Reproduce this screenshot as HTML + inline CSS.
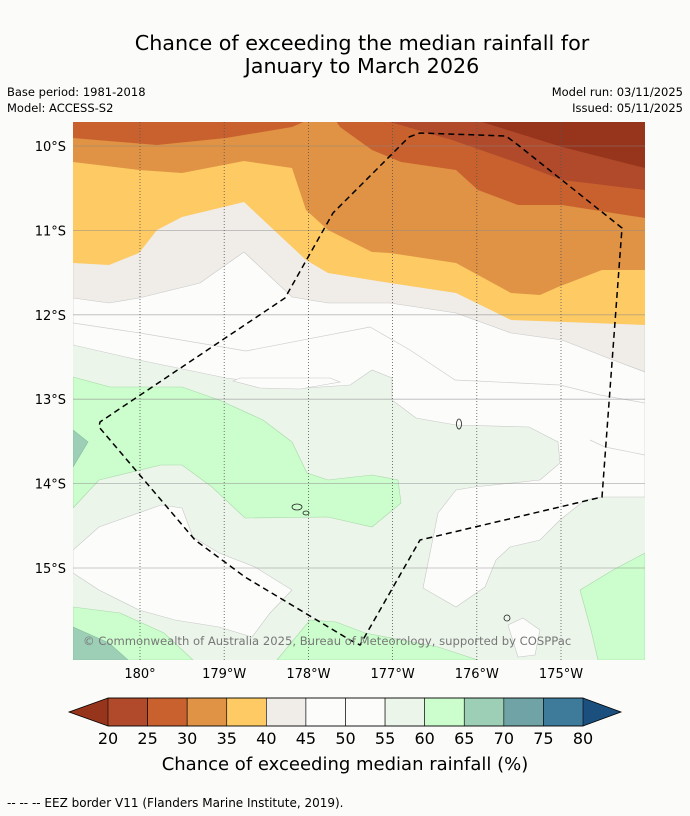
<!DOCTYPE html>
<html><head><meta charset="utf-8"><style>
html,body{margin:0;padding:0;background:#fbfcfa;}
svg{display:block;font-family:"DejaVu Sans","Liberation Sans",sans-serif;}
</style></head><body>
<svg id="chart" width="690" height="816" viewBox="0 0 690 816" xmlns="http://www.w3.org/2000/svg">
<rect width="690" height="816" fill="#fbfcfa"/>
<text x="362" y="50" font-size="20.7" text-anchor="middle" fill="#000">Chance of exceeding the median rainfall for</text>
<text x="362" y="73" font-size="20.7" text-anchor="middle" fill="#000">January to March 2026</text>
<text x="7" y="96" font-size="11.5">Base period: 1981-2018</text>
<text x="7" y="112" font-size="11.5">Model: ACCESS-S2</text>
<text x="683" y="96" font-size="11.5" text-anchor="end">Model run: 03/11/2025</text>
<text x="683" y="112" font-size="11.5" text-anchor="end">Issued: 05/11/2025</text>
<defs><clipPath id="mapclip"><rect x="73" y="122" width="572" height="538"/></clipPath></defs>
<g id="map" clip-path="url(#mapclip)"></g>
<g id="axes"></g>
<g id="cbar"></g>
<text x="345" y="770" font-size="18" text-anchor="middle">Chance of exceeding median rainfall (%)</text>
<text x="7" y="807" font-size="12">--  --  -- EEZ border V11 (Flanders Marine Institute, 2019).</text>
</svg>
<script>
const levels = [20,25,30,35,40,45,50,55,60,65,70,75,80];
const levelColors = ["#b04a2a","#c9612f","#e09344","#fdca64","#f0ece8","#fcfdfb","#fcfdfb","#ebf5ea","#ccfdcc","#9dcfb7","#6fa3a6","#3e7a99"];
const underColor = "#96341c";
const overColor = "#1b4f7e";
const latTicks = [10,11,12,13,14,15];
const latLabels = ["10°S","11°S","12°S","13°S","14°S","15°S"];
const lonTicks = [180,181,182,183,184,185];
const lonLabels = ["180°","179°W","178°W","177°W","176°W","175°W"];

const NS="http://www.w3.org/2000/svg";
const map=document.getElementById('map');
const axes=document.getElementById('axes');
const cbar=document.getElementById('cbar');
function xOfLon(l){return 140+(l-180)*84.2;}
function yOfLat(s){return 146+(s-10)*84.4;}
function el(tag,attrs,parent){const e=document.createElementNS(NS,tag);for(const k in attrs)e.setAttribute(k,attrs[k]);parent.appendChild(e);return e;}
function poly(pts,fill,name,stroke){
  const p=el('polygon',{points:pts.map(q=>q.join(',')).join(' '),fill:fill,stroke:stroke||'#c8c8c8','stroke-width':0.6},map);
  
  
  return p;
}
const base=el('rect',{x:73,y:122,width:572,height:538,fill:levelColors[7]},map);


poly([[73,122],[645,122],[645,497],[602,497],[585,500],[560,520],[540,540],[510,547],[496,560],[485,587],[456,607],[423,588],[438,513],[456,490],[474,487],[540,480],[560,463],[558,442],[529,427],[456,425],[416,418],[392,400],[392,378],[372,370],[350,385],[306,388],[226,378],[139,360],[73,345]],levelColors[5],'region-45-55-north');
poly([[73,550],[99,527],[161,505],[182,508],[193,537],[219,553],[255,567],[292,590],[270,613],[252,637],[219,627],[175,620],[139,610],[99,590],[73,573]],levelColors[5],'region-45-55-southwest');
poly([[508,625],[523,618],[540,630],[535,655],[518,657]],levelColors[5],'region-45-55-small');
poly([[233,381],[260,388],[300,389],[340,382],[330,378],[240,378]],levelColors[5],'region-45-55-patch');
const c1=el('polyline',{points:"73,323 140,333 246,351 370,327 410,350 455,380 560,385 600,395 645,403",fill:'none',stroke:'#cfcfcf','stroke-width':0.7},map);

const c2=el('polyline',{points:"590,440 605,447 645,455",fill:'none',stroke:'#cfcfcf','stroke-width':0.7},map);

poly([[73,377],[110,387],[182,387],[219,400],[263,420],[292,442],[307,473],[328,480],[372,475],[398,480],[401,503],[372,527],[328,517],[245,518],[212,487],[182,465],[161,465],[99,480],[73,508]],levelColors[8],'region-60-65-west','#a8d8a8');
poly([[645,553],[613,570],[580,590],[591,630],[598,660],[645,660]],levelColors[8],'region-60-65-east','#a8d8a8');
poly([[73,607],[120,613],[164,633],[193,660],[73,660]],levelColors[8],'region-60-65-southwest','#a8d8a8');
poly([[277,660],[310,620],[336,622],[365,633],[438,647],[478,660]],levelColors[8],'region-60-65-south','#a8d8a8');
poly([[73,430],[88,442],[73,467]],levelColors[9],'region-65-70-west','#88bba0');
poly([[73,627],[109,643],[128,660],[73,660]],levelColors[9],'region-65-70-southwest','#88bba0');
poly([[73,122],[645,122],[645,372],[613,360],[562,340],[511,333],[456,313],[390,303],[328,303],[292,297],[244,252],[200,283],[139,298],[109,303],[73,298]],levelColors[4],'region-40-45');
poly([[73,122],[645,122],[645,325],[511,320],[456,293],[390,283],[328,273],[306,260],[244,202],[182,217],[157,230],[139,253],[109,265],[73,263]],levelColors[3],'region-35-40','none');
poly([[73,122],[645,122],[645,270],[602,270],[558,287],[540,295],[511,293],[456,263],[390,253],[372,252],[328,230],[306,210],[292,168],[244,161],[182,173],[139,170],[73,162]],levelColors[2],'region-30-35','none');
poly([[73,122],[73,138],[157,145],[226,138],[292,127],[306,121],[336,121],[340,127],[372,150],[401,162],[456,170],[478,190],[518,205],[562,205],[645,218],[645,122]],levelColors[1],'region-25-30','none');
poly([[390,122],[452,140],[518,163],[562,180],[645,190],[645,122]],levelColors[0],'region-20-25','none');
poly([[482,122],[562,147],[645,168],[645,122]],underColor,'region-below-20','none');
[[459,424,2.5,5],[297,507,5,3],[306,513,3,2],[507,618,3,3]].forEach((d,i)=>{
  const e=el('ellipse',{cx:d[0],cy:d[1],rx:d[2],ry:d[3],fill:'none',stroke:'#222','stroke-width':0.8},map);
  
});
latTicks.forEach((t,i)=>{
  const y=yOfLat(t);
  const g=el('line',{x1:73,x2:645,y1:y,y2:y,stroke:'#888','stroke-opacity':0.6,'stroke-width':0.8},map);
  
  const tx=el('text',{x:66,y:y+5,'font-size':13,'text-anchor':'end'},axes);
  tx.textContent=latLabels[i];
  
});
lonTicks.forEach((t,i)=>{
  const x=xOfLon(t);
  const g=el('line',{x1:x,x2:x,y1:122,y2:660,stroke:'#555','stroke-width':0.8,'stroke-dasharray':'1,2'},map);
  
  const tx=el('text',{x:x,y:678,'font-size':13,'text-anchor':'middle'},axes);
  tx.textContent=lonLabels[i];
  
});
const eez=el('polyline',{points:"409,137 420,133 506,136 518,145 622,228 602,497 420,540 360,645 350,640 245,577 195,540 99,427 100,422 285,298 333,213 409,137",fill:'none',stroke:'#000','stroke-width':1.5,'stroke-dasharray':'6,4'},map);

const cp=el('text',{x:83,y:645,'font-size':11.6,fill:'#777'},map);
cp.textContent="© Commonwealth of Australia 2025, Bureau of Meteorology, supported by COSPPac";

const cbX0=108,cbX1=583,cbY=698,cbH=28;
const bw=(cbX1-cbX0)/levelColors.length;
const lt=el('polygon',{points:`69,${cbY+cbH/2} ${cbX0},${cbY} ${cbX0},${cbY+cbH}`,fill:underColor},cbar);

const rt=el('polygon',{points:`621,${cbY+cbH/2} ${cbX1},${cbY} ${cbX1},${cbY+cbH}`,fill:overColor},cbar);

levelColors.forEach((c,i)=>{
  const r=el('rect',{x:cbX0+i*bw,y:cbY,width:bw,height:cbH,fill:c,stroke:'#000','stroke-width':0.6},cbar);
  
});
const ol=el('polygon',{points:`69,${cbY+cbH/2} ${cbX0},${cbY} ${cbX1},${cbY} 621,${cbY+cbH/2} ${cbX1},${cbY+cbH} ${cbX0},${cbY+cbH}`,fill:'none',stroke:'#000','stroke-width':0.8},cbar);

levels.forEach((v,i)=>{
  const t=el('text',{x:cbX0+i*bw,y:744,'font-size':16,'text-anchor':'middle'},cbar);
  t.textContent=v;
  
});
</script>
</body></html>
